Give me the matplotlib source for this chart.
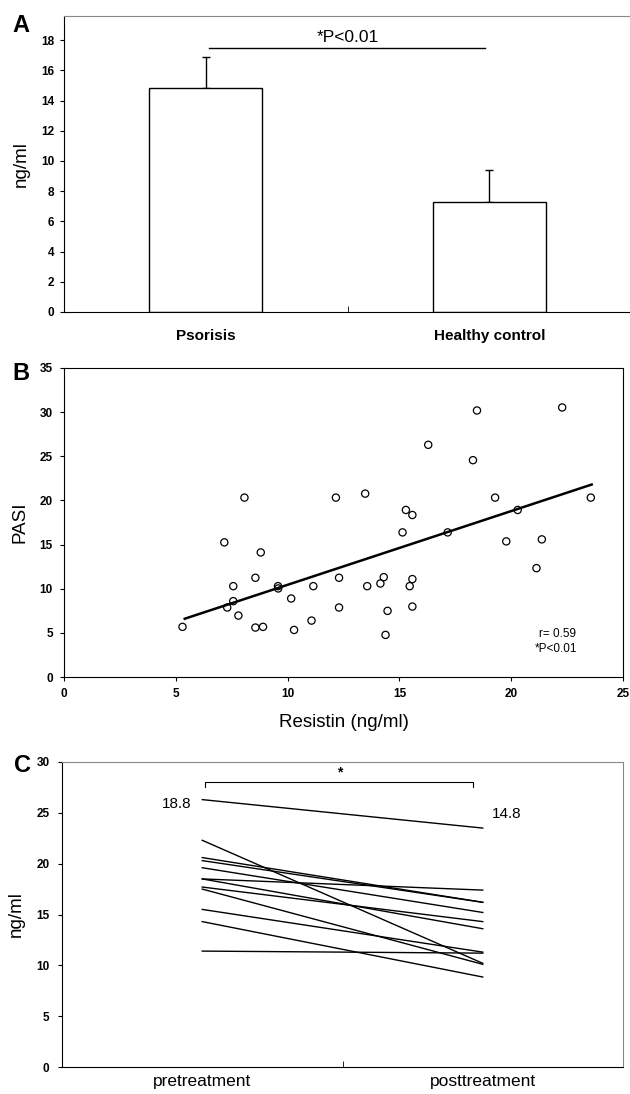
import matplotlib
matplotlib.use("Agg")
import matplotlib.pyplot as plt

plt.rcParams['font.family'] = ['Liberation Sans', 'DejaVu Sans']

# panel A: mean resistin levels
groups = ['Psorisis', 'Healthy control']
means = [14.8, 7.3]
sd_up = [2.1, 2.1]

# panel B: resistin vs PASI
resistin = [5.3, 7.17, 7.3, 7.57, 7.57, 7.8, 8.07, 8.56, 8.56, 8.8, 8.9, 9.57,
            9.58, 10.16, 10.29, 11.07, 11.15, 12.16, 12.3, 12.3, 13.47, 13.56,
            14.15, 14.3, 14.38, 14.47, 15.14, 15.29, 15.46, 15.58, 15.58, 15.58,
            16.29, 17.16, 18.29, 18.47, 19.28, 19.78, 20.29, 21.13, 21.37, 22.28,
            23.56]
pasi = [5.68, 15.25, 7.87, 10.29, 8.59, 6.96, 20.32, 11.24, 5.6, 14.11, 5.68,
        10.29, 10.03, 8.89, 5.33, 6.39, 10.29, 20.32, 11.24, 7.87, 20.77, 10.29,
        10.59, 11.31, 4.77, 7.49, 16.38, 18.92, 10.29, 18.35, 11.09, 7.98, 26.3,
        16.38, 24.56, 30.19, 20.32, 15.36, 18.92, 12.33, 15.59, 30.53, 20.32]
trend_x = [5.4, 23.6]
trend_y = [6.6, 21.8]

# panel C: before / after treatment
pre = [26.3, 22.3, 11.4, 18.5, 20.6, 20.3, 19.6, 18.5, 17.7, 17.5, 15.5, 14.3]
post = [23.5, 10.2, 11.2, 17.4, 16.2, 16.2, 15.2, 13.6, 14.3, 10.1, 11.3, 8.85]
phases = ['pretreatment', 'posttreatment']
mean_labels = ['18.8', '14.8']

fig = plt.figure(figsize=(6.3, 10.94), dpi=100)
W, H = 630.0, 1094.0


def box(l, t, r, b):
    return fig.add_axes([l / W, 1 - b / H, (r - l) / W, (b - t) / H])


def bold_ticks(labels, size=8.5):
    for lab in labels:
        lab.set_fontsize(size)
        lab.set_fontweight('bold')


# ---- A ----
ax = box(64, 16, 631, 312)
ax.bar([0.5, 1.5], means, width=0.4, color='white', edgecolor='black', lw=1, zorder=2)
ax.errorbar([0.5, 1.5], means, yerr=[[0, 0], sd_up], fmt='none', ecolor='black',
            elinewidth=1, capsize=3, capthick=1, zorder=1)
ax.plot([0.51, 1.486], [17.5, 17.5], color='black', lw=1)
ax.text(1.0, 17.65, '*P<0.01', ha='center', va='bottom', fontsize=12.5)
ax.set_xlim(0, 2)
ax.set_ylim(0, 19.6)
ax.set_yticks(range(0, 19, 2))
ax.set_xticks([0.5, 1.5])
ax.set_xticklabels(groups, fontsize=11, fontweight='bold')
ax.tick_params(axis='x', length=0, pad=12)
ax.set_xticks([1], minor=True)
ax.tick_params(axis='x', which='minor', direction='in', length=4)
bold_ticks(ax.get_yticklabels())
ax.tick_params(axis='y', length=3, pad=4)
ax.spines['right'].set_visible(False)
ax.spines['top'].set_color('#888888')
ax.set_ylabel('ng/ml', fontsize=13.5, labelpad=8)
fig.text(12 / W, 1 - 25 / H, 'A', fontsize=17, fontweight='bold', va='center')

# ---- B ----
ax = box(64, 368, 623, 677)
ax.scatter(resistin, pasi, s=27, facecolors='none', edgecolors='black', linewidths=0.9, zorder=3)
ax.plot(trend_x, trend_y, color='black', lw=1.8, zorder=2)
ax.text(22.07, 4.87, 'r= 0.59', ha='center', va='center', fontsize=8.5)
ax.text(22.0, 3.17, '*P<0.01', ha='center', va='center', fontsize=8.5)
ax.set_xlim(0, 25)
ax.set_ylim(0, 35)
ax.set_xticks(range(0, 26, 5))
ax.set_yticks(range(0, 36, 5))
bold_ticks(ax.get_xticklabels() + ax.get_yticklabels())
ax.tick_params(length=3, pad=5)
ax.set_xlabel('Resistin (ng/ml)', fontsize=13.5, labelpad=10)
ax.set_ylabel('PASI', fontsize=13.5, labelpad=8)
fig.text(12 / W, 1 - 374 / H, 'B', fontsize=17, fontweight='bold', va='center')

# ---- C ----
ax = box(62, 762, 623, 1067)
for a, b in zip(pre, post):
    ax.plot([0.5, 1.5], [a, b], color='black', lw=1)
ax.plot([0.51, 0.51, 1.467, 1.467], [27.5, 28.0, 28.0, 27.5], color='black', lw=0.8)
ax.text(0.99, 28.3, '*', ha='center', va='bottom', fontsize=10, fontweight='bold')
ax.text(0.41, 25.9, mean_labels[0], ha='center', va='center', fontsize=11)
ax.text(1.585, 24.9, mean_labels[1], ha='center', va='center', fontsize=11)
ax.set_xlim(0, 2)
ax.set_ylim(0, 30)
ax.set_yticks(range(0, 31, 5))
ax.set_xticks([0.5, 1.5])
ax.set_xticklabels(phases, fontsize=12.5)
ax.tick_params(axis='x', length=0, pad=5)
ax.set_xticks([1], minor=True)
ax.tick_params(axis='x', which='minor', direction='in', length=4)
bold_ticks(ax.get_yticklabels())
ax.tick_params(axis='y', length=3, pad=6)
ax.spines['top'].set_color('#888888')
ax.spines['right'].set_color('#888888')
ax.set_ylabel('ng/ml', fontsize=13.5, labelpad=8)
fig.text(14 / W, 1 - 765 / H, 'C', fontsize=17, fontweight='bold', va='center')

fig.savefig('out.png', dpi=100)
